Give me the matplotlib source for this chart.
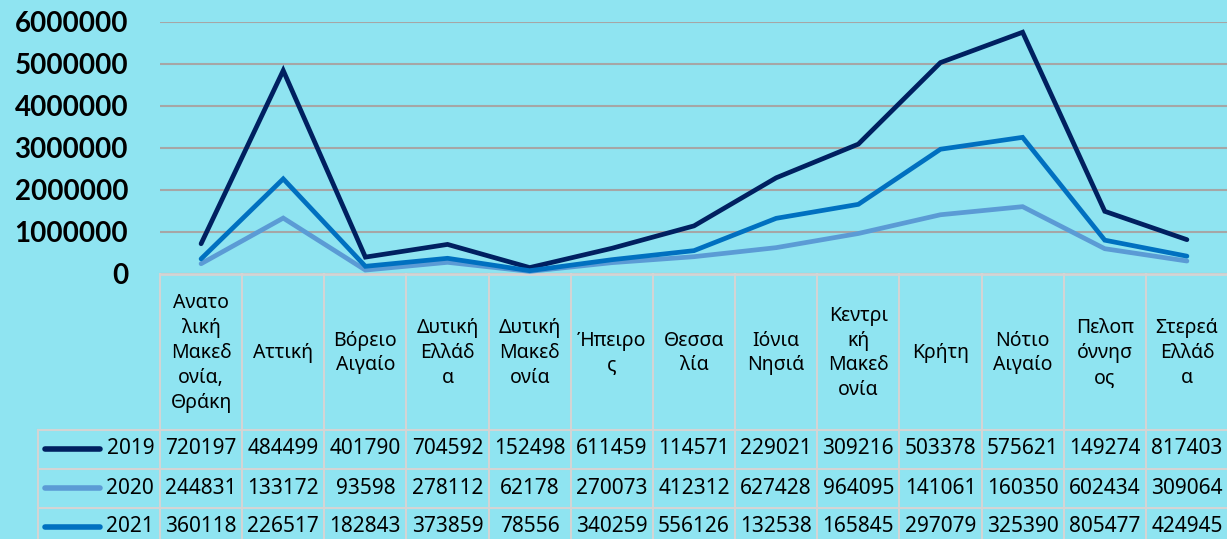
import matplotlib
matplotlib.use('Agg')
import matplotlib.pyplot as plt
import matplotlib.transforms as mtransforms
import numpy as np

# Περιφέρειες
regions = ['Ανατο\nλική\nΜακεδ\nονία,\nΘράκη', 'Αττική', 'Βόρειο\nΑιγαίο',
           'Δυτική\nΕλλάδ\nα', 'Δυτική\nΜακεδ\nονία', 'Ήπειρο\nς', 'Θεσσα\nλία',
           'Ιόνια\nΝησιά', 'Κεντρι\nκή\nΜακεδ\nονία', 'Κρήτη', 'Νότιο\nΑιγαίο',
           'Πελοπ\nόννησ\nος', 'Στερεά\nΕλλάδ\nα']
years = ['2019', '2020', '2021']
v2019 = [720197, 4844990, 401790, 704592, 152498, 611459, 1145710,
         2290210, 3092160, 5033780, 5756210, 1492740, 817403]
v2020 = [244831, 1331720, 93598, 278112, 62178, 270073, 412312,
         627428, 964095, 1410610, 1603500, 602434, 309064]
v2021 = [360118, 2265170, 182843, 373859, 78556, 340259, 556126,
         1325380, 1658450, 2970790, 3253900, 805477, 424945]
series = [v2019, v2020, v2021]
colors = ['#002060', '#5B9BD5', '#0070C0']

bg = '#8FE4F1'
grid_c = '#A6A6A6'
tab_c = '#D4D4D4'
plt.rcParams['font.family'] = ['Noto Sans', 'DejaVu Sans']

fig = plt.figure(figsize=(12.27, 5.39), dpi=100, facecolor=bg)
W, H = 1227, 539
ax = fig.add_axes([160 / W, (H - 274) / H, 1068 / W, 252 / H])
ax.set_facecolor(bg)

x = np.arange(len(regions))
# σειρά σχεδίασης: 2020 κάτω, μετά 2021, μετά 2019
for idx in [1, 2, 0]:
    ax.plot(x, series[idx], color=colors[idx], linewidth=3.4, solid_capstyle='round',
            solid_joinstyle='miter', zorder=3 + idx, clip_on=False)

ax.set_xlim(-0.5, len(regions) - 0.5)
ax.set_ylim(0, 6000000)
ax.set_yticks(np.arange(0, 6000001, 1000000))
ax.set_yticklabels([str(v) for v in range(0, 6000001, 1000000)],
                   fontsize=20, fontweight='bold', family=['Lato', 'DejaVu Sans'])
ax.tick_params(axis='y', length=0, pad=23)
ax.tick_params(axis='x', length=0, labelbottom=False)
for s in ax.spines.values():
    s.set_visible(False)
ax.yaxis.grid(True, color=grid_c, linewidth=1.5)
ax.set_axisbelow(True)

# πίνακας δεδομένων κάτω από το διάγραμμα
tr = mtransforms.blended_transform_factory(ax.transData, ax.transAxes)
ax_px = 252.0


def yfrac(p):
    return (274 - p) / ax_px


row_lines = [274, 430, 469, 508]
n = len(regions)
# κάθετες γραμμές
for i in range(n + 1):
    ax.plot([i - 0.5, i - 0.5], [yfrac(274), yfrac(545)], color=tab_c, lw=1.5,
            transform=tr, clip_on=False)
left_edge = -0.5 - (160 - 38) / 82.15
ax.plot([left_edge, left_edge], [yfrac(430), yfrac(545)], color=tab_c, lw=1.5,
        transform=tr, clip_on=False)
# οριζόντιες γραμμές
ax.plot([-0.5, n - 0.5], [yfrac(274)] * 2, color=tab_c, lw=2, transform=tr, clip_on=False)
for p in row_lines[1:]:
    ax.plot([left_edge, n - 0.5], [yfrac(p)] * 2, color=tab_c, lw=1.5,
            transform=tr, clip_on=False)

# ετικέτες κατηγοριών
for i, r in enumerate(regions):
    ax.text(i, yfrac(353), r, ha='center', va='center', fontsize=14,
            linespacing=1.32, transform=tr)

# γραμμές τιμών
row_mid = [449, 488, 527]
for k, (yr, vals) in enumerate(zip(years, series)):
    ym = yfrac(row_mid[k])
    ax.plot([left_edge + 0.08, left_edge + 0.75], [ym, ym], color=colors[k], lw=4,
            solid_capstyle='round', transform=tr, clip_on=False)
    ax.text(-0.57, ym, yr, ha='right', va='center', fontsize=15, transform=tr)
    for i, v in enumerate(vals):
        ax.text(i, ym, str(v)[:6], ha='center', va='center', fontsize=15,
                transform=tr)

fig.savefig('out.png', dpi=100, facecolor=bg)
